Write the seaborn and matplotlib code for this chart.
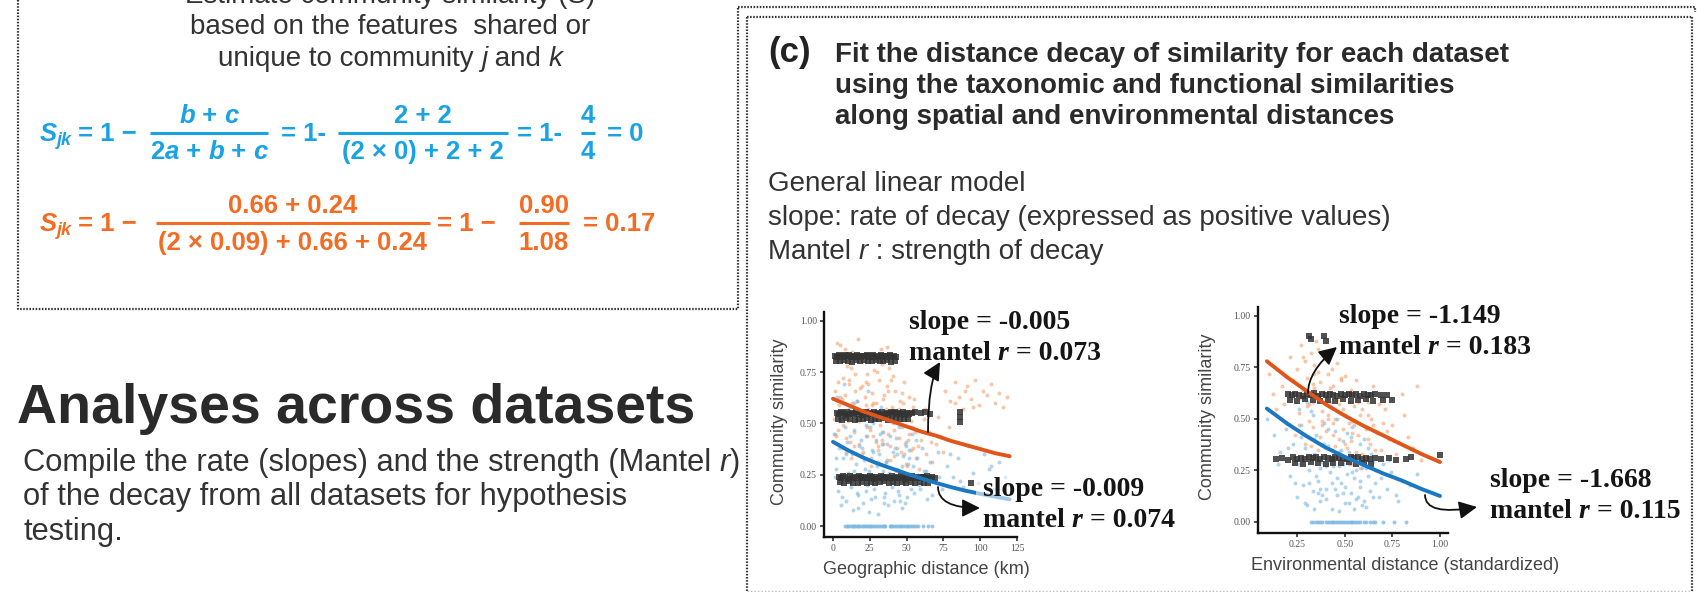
import matplotlib
matplotlib.use("Agg")
import matplotlib.pyplot as plt
import seaborn as sns
import pandas as pd
from matplotlib.patches import FancyArrowPatch, Rectangle

# ---------------- data ----------------
# left panel: geographic distance (km) vs community similarity
geo_tax_x = [1.2, 2.5, 3.1, 4.4, 5.0, 5.8, 6.6, 7.3, 8.1, 8.9, 9.7, 10.4, 11.2, 12.0, 12.9, 13.5, 14.3, 15.2, 16.0, 16.8,
             17.5, 18.4, 19.1, 19.9, 20.7, 21.6, 22.3, 23.0, 23.9, 24.6, 25.5, 26.2, 27.1, 27.8, 28.7, 29.5, 30.3, 31.1,
             31.9, 32.6, 33.5, 34.2, 35.0, 35.9, 36.7, 37.4, 38.3, 39.0, 39.8, 40.7, 41.5, 42.2, 43.0, 43.9, 44.6, 45.5,
             46.3, 47.1, 48.0, 48.8, 49.7, 50.5, 51.4, 52.3, 53.1, 54.2, 55.0, 56.3, 57.4, 58.6, 60.1, 61.8, 63.5, 65.2,
             67.4, 69.8, 72.5, 76.0, 79.3, 82.7, 85.9, 88.4, 91.2, 93.8, 96.5, 99.1, 101.8, 104.6, 107.3, 110.2, 113.0,
             115.7, 118.4,
             0.8, 3.6, 6.1, 9.3, 11.7, 14.8, 17.1, 19.6, 22.8, 25.1, 27.5, 30.8, 33.0, 36.1, 38.7, 41.0, 44.2, 47.6,
             50.9, 54.6, 2.0, 7.9, 13.1, 18.0, 24.0, 29.0, 34.7, 39.5, 45.0, 52.8,
             1.5, 4.9, 8.6, 12.3, 15.9, 19.4, 23.2, 26.7, 30.1, 33.9, 37.6, 41.2, 44.9, 48.4, 51.7, 55.8,
             2.9, 6.8, 10.8, 14.6, 18.7, 22.5, 26.0, 29.8, 33.3, 36.9, 40.1, 43.6, 47.0, 50.2, 53.9, 57.9, 62.4, 66.8,
             71.1, 74.7, 78.5, 83.0, 89.6, 95.3]
geo_tax_y = [0.66, 0.81, 0.47, 0.59, 0.88, 0.38, 0.72, 0.55, 0.64, 0.43, 0.78, 0.51, 0.69, 0.33, 0.85, 0.58, 0.46, 0.74,
             0.61, 0.91, 0.40, 0.67, 0.53, 0.80, 0.36, 0.63, 0.70, 0.48, 0.57, 0.84, 0.29, 0.65, 0.44, 0.76, 0.52, 0.60,
             0.37, 0.71, 0.49, 0.86, 0.42, 0.62, 0.55, 0.31, 0.68, 0.45, 0.77, 0.39, 0.58, 0.50, 0.34, 0.66, 0.27, 0.53,
             0.43, 0.61, 0.36, 0.48, 0.70, 0.40, 0.30, 0.56, 0.45, 0.25, 0.51, 0.38, 0.62, 0.33, 0.47, 0.28, 0.42, 0.52,
             0.35, 0.46, 0.31, 0.40, 0.44, 0.66, 0.61, 0.70, 0.63, 0.57, 0.68, 0.62, 0.71, 0.59, 0.66, 0.64, 0.69, 0.60,
             0.65, 0.58, 0.63,
             0.52, 0.70, 0.62, 0.83, 0.41, 0.66, 0.56, 0.35, 0.74, 0.47, 0.60, 0.39, 0.79, 0.57, 0.32, 0.73, 0.50, 0.60,
             0.42, 0.58, 0.44, 0.86, 0.60, 0.51, 0.69, 0.41, 0.64, 0.71, 0.53, 0.37,
             0.45, 0.63, 0.36, 0.77, 0.52, 0.68, 0.44, 0.59, 0.81, 0.40, 0.66, 0.47, 0.57, 0.35, 0.63, 0.46,
             0.89, 0.49, 0.71, 0.39, 0.82, 0.59, 0.33, 0.75, 0.46, 0.87, 0.55, 0.38, 0.65, 0.29, 0.48, 0.39, 0.57, 0.41,
             0.53, 0.36, 0.48, 0.60, 0.66, 0.58]
geo_fun_x = [0.9, 1.8, 2.7, 3.5, 4.3, 5.2, 6.0, 6.9, 7.7, 8.6, 9.4, 10.3, 11.1, 12.0, 12.8, 13.7, 14.5, 15.4, 16.2, 17.1,
             17.9, 18.8, 19.6, 20.5, 21.3, 22.2, 23.0, 23.9, 24.7, 25.6, 26.4, 27.3, 28.1, 29.0, 29.8, 30.7, 31.5, 32.4,
             33.2, 34.1, 34.9, 35.8, 36.6, 37.5, 38.3, 39.2, 40.0, 40.9, 41.7, 42.6, 43.4, 44.3, 45.1, 46.0, 46.8, 47.7,
             48.5, 49.4, 50.2, 51.1, 52.5, 53.8, 55.2, 56.9, 58.4, 60.3, 62.1, 64.0, 66.2, 68.5, 71.0, 74.3, 77.6, 81.2,
             84.7, 88.1, 91.6, 95.2, 98.8, 102.3, 105.9, 109.4, 113.0, 116.6, 119.8,
             2.2, 5.6, 8.2, 11.6, 14.0, 16.6, 19.3, 21.8, 24.3, 26.9, 29.4, 31.9, 34.5, 37.0, 39.6, 42.1, 44.7, 47.2,
             49.8, 53.0, 4.0, 10.0, 15.8, 22.6, 28.5, 33.7, 38.9, 45.6, 51.8, 57.5,
             1.3, 3.8, 6.4, 9.0, 11.9, 14.4, 17.0, 19.9, 22.4, 25.0, 27.9, 30.3, 33.0, 35.6, 38.1, 40.7, 43.2, 46.2,
             48.8, 51.5, 54.3, 56.1, 59.2, 63.1, 67.3, 72.2, 79.4, 86.5, 93.7, 107.6]
geo_fun_y = [0.45, 0.28, 0.63, 0.17, 0.38, 0.52, 0.22, 0.33, 0.69, 0.12, 0.41, 0.26, 0.57, 0.19, 0.35, 0.08, 0.47, 0.30,
             0.61, 0.15, 0.39, 0.24, 0.54, 0.11, 0.32, 0.44, 0.20, 0.66, 0.27, 0.13, 0.37, 0.50, 0.18, 0.42, 0.29, 0.06,
             0.35, 0.58, 0.22, 0.46, 0.14, 0.31, 0.40, 0.10, 0.26, 0.53, 0.19, 0.36, 0.12, 0.43, 0.28, 0.17, 0.48, 0.23,
             0.09, 0.34, 0.21, 0.39, 0.14, 0.30, 0.25, 0.45, 0.16, 0.33, 0.20, 0.38, 0.27, 0.13, 0.31, 0.22, 0.36, 0.18,
             0.29, 0.24, 0.33, 0.19, 0.39, 0.26, 0.21, 0.35, 0.28, 0.18, 0.31, 0.24, 0.20,
             0.33, 0.10, 0.48, 0.23, 0.60, 0.16, 0.42, 0.28, 0.07, 0.36, 0.21, 0.45, 0.11, 0.32, 0.24, 0.38, 0.15, 0.29,
             0.41, 0.18, 0.55, 0.37, 0.25, 0.49, 0.14, 0.27, 0.44, 0.12, 0.33, 0.23,
             0.24, 0.51, 0.14, 0.35, 0.44, 0.27, 0.09, 0.38, 0.17, 0.48, 0.23, 0.31, 0.40, 0.16, 0.51, 0.21, 0.35, 0.26,
             0.11, 0.37, 0.29, 0.42, 0.18, 0.27, 0.15, 0.24, 0.35, 0.22, 0.17, 0.29]
geo_zero_x = [8.5, 10.2, 12.6, 14.1, 16.3, 18.0, 20.4, 22.1, 24.5, 26.0, 28.3, 31.2, 33.8, 35.4, 38.6, 40.3, 42.7, 45.2,
              47.5, 50.1, 52.4, 55.3, 58.0, 61.2, 64.5, 67.6,
              9.3, 11.4, 13.3, 15.2, 17.1, 19.2, 21.3, 23.3, 25.2, 27.1, 29.6, 32.5, 34.6, 39.5, 41.5, 43.9, 46.3, 48.8,
              51.2, 53.8, 56.6]
geo_zero_y = [0.0] * 47
geo_grey_x = [1.2, 2.6, 3.9, 5.3, 6.6, 8.0, 9.3, 10.7, 12.0, 13.4, 14.7, 16.1, 17.4, 18.8, 20.1, 21.5, 22.8, 24.2, 25.5,
              26.9, 28.2, 29.6, 30.9, 32.3, 33.6, 35.0, 36.3, 37.7, 39.0, 40.4, 41.7, 43.1,
              1.9, 4.6, 7.3, 10.0, 12.7, 15.4, 18.1, 20.8, 23.5, 26.2, 28.9, 31.6, 34.3, 37.0, 39.7, 42.4,
              2.8, 4.2, 5.6, 7.0, 8.4, 9.8, 11.2, 12.6, 14.0, 15.4, 16.8, 18.2, 19.6, 21.0, 22.4, 23.8, 25.2, 26.6, 28.0,
              29.4, 30.8, 32.2, 33.6, 35.0, 36.4, 37.8, 39.2, 40.6, 42.0, 43.4, 44.8, 46.2, 47.6, 49.0, 50.4, 51.8,
              53.5, 56.0, 59.5, 62.8, 66.0, 86.0, 86.3,
              3.5, 6.3, 9.1, 11.9, 14.7, 17.5, 20.3, 23.1, 25.9, 28.7, 31.5, 34.3, 37.1, 39.9, 42.7, 45.5, 48.3, 51.1, 86.6,
              4.0, 5.5, 7.0, 8.5, 10.0, 11.5, 13.0, 14.5, 16.0, 17.5, 19.0, 20.5, 22.0, 23.5, 25.0, 26.5, 28.0, 29.5,
              31.0, 32.5, 34.0, 35.5, 37.0, 38.5, 40.0, 41.5, 43.0, 44.5, 46.0, 47.5, 49.0, 50.5, 52.0, 53.5, 55.0,
              56.5, 58.0, 59.5, 61.0, 62.5, 64.0, 65.5, 67.0, 69.0,
              4.8, 7.8, 10.8, 13.8, 16.8, 19.8, 22.8, 25.8, 28.8, 31.8, 34.8, 37.8, 40.8, 43.8, 46.8, 49.8, 52.8, 55.8,
              58.8, 61.8, 64.8, 94.0]
geo_grey_y = [0.830, 0.825, 0.833, 0.828, 0.822, 0.831, 0.826, 0.834, 0.823, 0.829, 0.825, 0.832, 0.827, 0.821, 0.830,
              0.826, 0.833, 0.824, 0.828, 0.831, 0.822, 0.829, 0.825, 0.833, 0.827, 0.823, 0.830, 0.826, 0.832, 0.824,
              0.828, 0.822,
              0.806, 0.803, 0.809, 0.805, 0.801, 0.807, 0.804, 0.810, 0.802, 0.806, 0.808, 0.803, 0.805, 0.809, 0.801,
              0.806,
              0.552, 0.545, 0.556, 0.549, 0.543, 0.554, 0.547, 0.551, 0.544, 0.555, 0.548, 0.553, 0.542, 0.550, 0.556,
              0.546, 0.552, 0.545, 0.554, 0.548, 0.551, 0.543, 0.555, 0.547, 0.550, 0.544, 0.553, 0.549, 0.556, 0.545,
              0.551, 0.547, 0.554, 0.542, 0.550, 0.548, 0.552, 0.556, 0.549, 0.553, 0.547, 0.555, 0.530,
              0.522, 0.518, 0.525, 0.520, 0.516, 0.523, 0.519, 0.526, 0.517, 0.522, 0.520, 0.524, 0.518, 0.521, 0.525,
              0.519, 0.523, 0.520, 0.508,
              0.240, 0.234, 0.243, 0.237, 0.231, 0.242, 0.236, 0.239, 0.233, 0.244, 0.238, 0.232, 0.241, 0.235, 0.243,
              0.237, 0.230, 0.240, 0.234, 0.242, 0.238, 0.232, 0.241, 0.236, 0.244, 0.233, 0.239, 0.235, 0.242, 0.237,
              0.231, 0.240, 0.236, 0.243, 0.234, 0.239, 0.232, 0.241, 0.237, 0.235, 0.242, 0.233, 0.238, 0.236,
              0.214, 0.210, 0.217, 0.212, 0.208, 0.215, 0.211, 0.216, 0.209, 0.213, 0.218, 0.210, 0.214, 0.212, 0.216,
              0.209, 0.213, 0.211, 0.215, 0.210, 0.212, 0.210]
geo_fit_x = [0, 10, 20, 30, 40, 50, 60, 70, 80, 90, 100, 110, 120]
geo_fit_tax = [0.62, 0.59, 0.56, 0.535, 0.51, 0.485, 0.46, 0.44, 0.415, 0.395, 0.375, 0.355, 0.34]
geo_fit_fun = [0.41, 0.37, 0.335, 0.305, 0.28, 0.255, 0.232, 0.21, 0.19, 0.172, 0.157, 0.143, 0.13]

# right panel: environmental distance vs community similarity
env_tax_x = [0.10, 0.14, 0.17, 0.19, 0.21, 0.22, 0.24, 0.25, 0.26, 0.27, 0.28, 0.29, 0.30, 0.31, 0.32, 0.33, 0.34, 0.35,
             0.36, 0.37, 0.38, 0.39, 0.40, 0.41, 0.42, 0.43, 0.44, 0.45, 0.46, 0.47, 0.48, 0.49, 0.50, 0.51, 0.52, 0.53,
             0.54, 0.55, 0.56, 0.57, 0.58, 0.59, 0.60, 0.61, 0.62, 0.63, 0.64, 0.65, 0.67, 0.69, 0.71, 0.73, 0.75, 0.77,
             0.80, 0.83, 0.86, 0.90,
             0.27, 0.29, 0.31, 0.33, 0.35, 0.37, 0.39, 0.41, 0.43, 0.45, 0.47, 0.49, 0.51, 0.53, 0.55, 0.57, 0.30, 0.34,
             0.38, 0.42, 0.46, 0.50, 0.54, 0.36, 0.44, 0.48, 0.58, 0.62, 0.66, 0.70,
             0.12, 0.18, 0.23, 0.26, 0.28, 0.30, 0.32, 0.34, 0.36, 0.38, 0.40, 0.42, 0.44, 0.46, 0.48, 0.50, 0.52, 0.54,
             0.56, 0.59, 0.62, 0.65, 0.68, 0.72, 0.76, 0.81, 0.88, 0.33, 0.41, 0.49]
env_tax_y = [0.72, 0.55, 0.66, 0.48, 0.80, 0.60, 0.42, 0.74, 0.53, 0.86, 0.64, 0.38, 0.70, 0.57, 0.82, 0.46, 0.76, 0.62,
             0.35, 0.68, 0.54, 0.79, 0.44, 0.72, 0.58, 0.31, 0.66, 0.50, 0.77, 0.40, 0.61, 0.55, 0.71, 0.36, 0.48, 0.64,
             0.28, 0.56, 0.69, 0.42, 0.52, 0.33, 0.62, 0.45, 0.58, 0.38, 0.50, 0.66, 0.43, 0.35, 0.55, 0.40, 0.47, 0.33,
             0.62, 0.41, 0.36, 0.30,
             0.60, 0.78, 0.49, 0.67, 0.88, 0.41, 0.63, 0.52, 0.74, 0.37, 0.57, 0.45, 0.62, 0.39, 0.47, 0.58, 0.32, 0.72,
             0.47, 0.65, 0.33, 0.52, 0.43, 0.84, 0.48, 0.69, 0.26, 0.52, 0.35, 0.48,
             0.62, 0.57, 0.69, 0.47, 0.80, 0.56, 0.37, 0.65, 0.73, 0.49, 0.60, 0.83, 0.42, 0.59, 0.70, 0.38, 0.58, 0.49,
             0.34, 0.55, 0.40, 0.47, 0.57, 0.44, 0.39, 0.52, 0.66, 0.58, 0.50, 0.29]
env_fun_x = [0.09, 0.13, 0.16, 0.19, 0.21, 0.23, 0.25, 0.26, 0.27, 0.28, 0.29, 0.30, 0.31, 0.32, 0.33, 0.34, 0.35, 0.36,
             0.37, 0.38, 0.39, 0.40, 0.41, 0.42, 0.43, 0.44, 0.45, 0.46, 0.47, 0.48, 0.49, 0.50, 0.51, 0.52, 0.53, 0.54,
             0.55, 0.56, 0.57, 0.58, 0.59, 0.60, 0.61, 0.62, 0.63, 0.64, 0.66, 0.68, 0.70, 0.72, 0.74, 0.77, 0.80, 0.84,
             0.88,
             0.28, 0.31, 0.34, 0.37, 0.40, 0.43, 0.46, 0.49, 0.52, 0.55, 0.58, 0.61, 0.33, 0.39, 0.45, 0.51, 0.57, 0.36,
             0.42, 0.48, 0.54, 0.60, 0.65, 0.30, 0.47,
             0.15, 0.20, 0.24, 0.27, 0.29, 0.32, 0.35, 0.38, 0.41, 0.44, 0.47, 0.50, 0.53, 0.56, 0.59, 0.62, 0.65, 0.69,
             0.73, 0.78, 0.26, 0.34, 0.43, 0.52, 0.58, 0.37, 0.46, 0.55, 0.40, 0.49]
env_fun_y = [0.50, 0.42, 0.34, 0.45, 0.22, 0.38, 0.12, 0.28, 0.47, 0.18, 0.36, 0.08, 0.25, 0.54, 0.15, 0.33, 0.42, 0.20,
             0.10, 0.29, 0.48, 0.16, 0.37, 0.24, 0.06, 0.31, 0.44, 0.13, 0.27, 0.19, 0.39, 0.09, 0.23, 0.34, 0.14, 0.46,
             0.21, 0.11, 0.30, 0.17, 0.26, 0.40, 0.07, 0.22, 0.15, 0.33, 0.19, 0.12, 0.28, 0.16, 0.24, 0.13, 0.20, 0.18,
             0.23,
             0.30, 0.19, 0.40, 0.26, 0.11, 0.35, 0.21, 0.28, 0.09, 0.31, 0.20, 0.26, 0.52, 0.38, 0.16, 0.43, 0.12, 0.14,
             0.30, 0.35, 0.24, 0.10, 0.29, 0.58, 0.05,
             0.28, 0.36, 0.19, 0.41, 0.09, 0.32, 0.22, 0.13, 0.45, 0.27, 0.34, 0.17, 0.41, 0.25, 0.08, 0.36, 0.12, 0.21,
             0.30, 0.10, 0.55, 0.06, 0.19, 0.28, 0.38, 0.16, 0.50, 0.06, 0.27, 0.14]
env_zero_x = [0.32, 0.35, 0.37, 0.40, 0.42, 0.44, 0.47, 0.49, 0.51, 0.53, 0.55, 0.58, 0.60, 0.63, 0.66, 0.70, 0.76, 0.82,
              0.33, 0.36, 0.38, 0.41, 0.43, 0.45, 0.46, 0.48, 0.50, 0.52, 0.54, 0.56, 0.57, 0.61, 0.65]
env_zero_y = [0.0] * 33
env_grey_x = [0.20, 0.22, 0.24, 0.26, 0.28, 0.30, 0.32, 0.34, 0.36, 0.38, 0.40, 0.42, 0.44, 0.46, 0.48, 0.50, 0.52, 0.54,
              0.56, 0.58, 0.60, 0.62, 0.64, 0.66, 0.69, 0.72,
              0.21, 0.25, 0.29, 0.33, 0.37, 0.41, 0.45, 0.49, 0.53, 0.57, 0.61, 0.65, 0.70, 0.75,
              0.14, 0.17, 0.20, 0.23, 0.25, 0.27, 0.29, 0.31, 0.33, 0.35, 0.37, 0.39, 0.41, 0.43, 0.45, 0.47, 0.49, 0.51,
              0.53, 0.55, 0.57, 0.59, 0.61, 0.63, 0.66, 0.69, 0.73, 0.77, 0.82, 0.85, 1.00,
              0.24, 0.28, 0.32, 0.36, 0.40, 0.44, 0.48, 0.52, 0.56, 0.60, 0.64,
              0.31, 0.32, 0.39, 0.40]
env_grey_y = [0.619, 0.614, 0.623, 0.617, 0.612, 0.621, 0.616, 0.624, 0.613, 0.620, 0.615, 0.622, 0.618, 0.611, 0.620,
              0.616, 0.623, 0.614, 0.619, 0.613, 0.621, 0.617, 0.615, 0.620, 0.614, 0.618,
              0.592, 0.588, 0.595, 0.590, 0.586, 0.593, 0.589, 0.596, 0.587, 0.591, 0.594, 0.588, 0.592, 0.590,
              0.304, 0.309, 0.302, 0.314, 0.307, 0.312, 0.305, 0.315, 0.308, 0.313, 0.306, 0.316, 0.310, 0.304, 0.314,
              0.308, 0.312, 0.305, 0.315, 0.309, 0.313, 0.306, 0.311, 0.307, 0.310, 0.304, 0.308, 0.302, 0.307, 0.315,
              0.325,
              0.286, 0.282, 0.289, 0.284, 0.280, 0.287, 0.283, 0.288, 0.281, 0.285, 0.282,
              0.905, 0.890, 0.905, 0.880]
env_fit_x = [0.09, 0.2, 0.3, 0.4, 0.5, 0.6, 0.7, 0.8, 0.9, 1.0]
env_fit_tax = [0.78, 0.70, 0.635, 0.57, 0.515, 0.465, 0.42, 0.375, 0.33, 0.29]
env_fit_fun = [0.55, 0.475, 0.415, 0.36, 0.315, 0.275, 0.235, 0.20, 0.16, 0.125]

geo_ticks = [0, 25, 50, 75, 100, 125]
env_ticks = [0.25, 0.50, 0.75, 1.00]
sim_ticks = [0.00, 0.25, 0.50, 0.75, 1.00]

stats_geo = [("-0.005", "0.073"), ("-0.009", "0.074")]
stats_env = [("-1.149", "0.183"), ("-1.668", "0.115")]

# ---------------- figure ----------------
sns.set_theme(style="white")
plt.rcParams['font.family'] = ['Liberation Sans', 'DejaVu Sans']

W, H = 1697, 592
fig = plt.figure(figsize=(W / 100, H / 100), dpi=100)
fig.patch.set_facecolor("white")


def px_axes(l, t, r, b, **kw):
    return fig.add_axes([l / W, 1 - b / H, (r - l) / W, (b - t) / H], **kw)


ax1 = px_axes(824, 311.7, 1017, 536.7)
ax2 = px_axes(1257.7, 306.7, 1448, 532.7)
ov = fig.add_axes([0, 0, 1, 1], zorder=10)
ov.set_xlim(0, W)
ov.set_ylim(H, 0)
ov.axis("off")
ov.patch.set_alpha(0)

C_TAX_PT = "#F4A06E"
C_FUN_PT = "#7DB8E3"
C_TAX_LN = "#E0561A"
C_FUN_LN = "#1C77C3"
C_GREY = "#333333"


def draw_panel(ax, tx, ty, fx, fy, zx, zy, gx, gy, fit_x, fit_t, fit_f, xlim, ylim, xticks, xticklabels):
    d = pd.DataFrame(list(zip(tx, ty)), columns=["x", "y"])
    sns.scatterplot(data=d, x="x", y="y", ax=ax, color=C_TAX_PT, s=8, alpha=0.6, linewidth=0, legend=False, zorder=2)
    d = pd.DataFrame(list(zip(fx, fy)), columns=["x", "y"])
    sns.scatterplot(data=d, x="x", y="y", ax=ax, color=C_FUN_PT, s=8, alpha=0.6, linewidth=0, legend=False, zorder=2)
    d = pd.DataFrame(list(zip(zx, zy)), columns=["x", "y"])
    sns.scatterplot(data=d, x="x", y="y", ax=ax, color=C_FUN_PT, s=8, alpha=0.8, linewidth=0, legend=False, zorder=2)
    d = pd.DataFrame(list(zip(gx, gy)), columns=["x", "y"])
    sns.scatterplot(data=d, x="x", y="y", ax=ax, color=C_GREY, marker="s", s=13, alpha=0.85, linewidth=0,
                    legend=False, zorder=3)
    sns.lineplot(x=fit_x, y=fit_t, ax=ax, color=C_TAX_LN, lw=2.8, zorder=4)
    sns.lineplot(x=fit_x, y=fit_f, ax=ax, color=C_FUN_LN, lw=2.8, zorder=4)
    ax.set_xlim(*xlim)
    ax.set_ylim(*ylim)
    ax.set_xticks(xticks)
    ax.set_xticklabels(xticklabels)
    ax.set_yticks(sim_ticks)
    ax.set_yticklabels([f"{v:.2f}" for v in sim_ticks])
    ax.set_xlabel("")
    ax.set_ylabel("")
    ax.patch.set_alpha(0)
    for s in ["top", "right"]:
        ax.spines[s].set_visible(False)
    for s in ["left", "bottom"]:
        ax.spines[s].set_color("#111111")
        ax.spines[s].set_linewidth(1.7)
    ax.tick_params(axis="both", direction="out", length=3, width=1.2, color="#333333", labelsize=7,
                   labelcolor="#555555", pad=2, bottom=True, left=True)
    for lbl in ax.get_xticklabels() + ax.get_yticklabels():
        lbl.set_fontfamily("Liberation Serif")


draw_panel(ax1, geo_tax_x, geo_tax_y, geo_fun_x, geo_fun_y, geo_zero_x, geo_zero_y, geo_grey_x, geo_grey_y,
           geo_fit_x, geo_fit_tax, geo_fit_fun, (-6.1, 125.0), (-0.052, 1.044), geo_ticks,
           [str(v) for v in geo_ticks])
draw_panel(ax2, env_tax_x, env_tax_y, env_fun_x, env_fun_y, env_zero_x, env_zero_y, env_grey_x, env_grey_y,
           env_fit_x, env_fit_tax, env_fit_fun, (0.042, 1.042), (-0.0535, 1.045), env_ticks,
           [f"{v:.2f}" for v in env_ticks])

fig.canvas.draw()
renderer = fig.canvas.get_renderer()


def text_width(txt, props):
    a = ov.text(0, 0, "|" + txt + "|", **props)
    b = ov.text(0, 0, "||", **props)
    w = a.get_window_extent(renderer).width - b.get_window_extent(renderer).width
    a.remove()
    b.remove()
    return w


def runs(x, y, parts, ha="left", **common):
    items = []
    for p in parts:
        props = dict(common)
        if isinstance(p, str):
            txt = p
        else:
            txt = p[0]
            if len(p) > 1:
                props.update(p[1])
        dy = props.pop("dy", 0)
        items.append((txt, props, dy, text_width(txt, props)))
    total = sum(i[3] for i in items)
    x0 = x - total / 2 if ha == "center" else (x - total if ha == "right" else x)
    for txt, props, dy, w in items:
        ov.text(x0, y + dy, txt, ha="left", va="baseline", **props)
        x0 += w


IT = {"style": "italic"}

# ---------------- borders ----------------
dot = dict(color="#333333", lw=1.6, linestyle=(0, (0.7, 0.7)), solid_capstyle="butt")
ov.plot([18, 18, 738, 738], [0, 309, 309, 7], **dot)
ov.plot([738, 1695, 1695], [7, 7, 12], **dot)
ov.plot([747, 747], [17, 591], **dot)
ov.plot([747, 1692], [17, 17], **dot)
ov.plot([1692, 1692], [17, 591], **dot)
ov.plot([747, 1692], [591, 591], color="#bbbbbb", lw=1.0, linestyle=(0, (1, 1.5)))

# ---------------- top-left text ----------------
TXT = "#333333"
ov.text(390, 3, "Estimate community similarity (S)", ha="center", va="baseline", fontsize=20, color=TXT)
ov.text(390, 34, "based on the features  shared or", ha="center", va="baseline", fontsize=20, color=TXT)
runs(390, 66, ["unique to community ", ("j", IT), " and ", ("k", IT)], ha="center", fontsize=20, color=TXT)

# ---------------- equations ----------------
CB = "#1AA3E3"
CO = "#F26C23"
EQ = dict(fontsize=18.5, fontweight="bold")
ITB = {"style": "italic"}


def sjk(x, y, color):
    runs(x, y, [("S", ITB), ("jk", {"style": "italic", "fontsize": 13, "dy": 4})], color=color, **EQ)


def frac(x0, x1, ybar, num, den, color, nb, db):
    ov.plot([x0, x1], [ybar, ybar], color=color, lw=2.2, solid_capstyle="butt")
    runs((x0 + x1) / 2, nb, num, ha="center", color=color, **EQ)
    runs((x0 + x1) / 2, db, den, ha="center", color=color, **EQ)


sjk(40, 141, CB)
ov.text(78, 141, "= 1 \u2212", va="baseline", color=CB, **EQ)
frac(150, 268, 133, [("b", ITB), " + ", ("c", ITB)],
     ["2", ("a", ITB), " + ", ("b", ITB), " + ", ("c", ITB)], CB, 123, 159)
ov.text(281, 141, "= 1-", va="baseline", color=CB, **EQ)
frac(338, 508, 133, ["2 + 2"], ["(2 \u00d7 0) + 2 + 2"], CB, 123, 159)
ov.text(517, 141, "= 1-", va="baseline", color=CB, **EQ)
frac(581, 595, 133, ["4"], ["4"], CB, 123, 159)
ov.text(607, 141, "= 0", va="baseline", color=CB, **EQ)

sjk(40, 231, CO)
ov.text(78, 231, "= 1 \u2212", va="baseline", color=CO, **EQ)
frac(156, 430, 223, ["0.66 + 0.24"], ["(2 \u00d7 0.09) + 0.66 + 0.24"], CO, 213, 250)
ov.text(437, 231, "= 1 \u2212", va="baseline", color=CO, **EQ)
frac(519, 569, 223, ["0.90"], ["1.08"], CO, 213, 250)
ov.text(583, 231, "= 0.17", va="baseline", color=CO, **EQ)

# ---------------- bottom-left text ----------------
ov.text(17, 423, "Analyses across datasets", va="baseline", fontsize=40, fontweight="bold", color="#2a2a2a")
runs(23, 471, ["Compile the rate (slopes) and the strength (Mantel ", ("r", IT), ")"], fontsize=22.2, color=TXT)
ov.text(23, 505, "of the decay from all datasets for hypothesis", va="baseline", fontsize=22.2, color=TXT)
ov.text(23, 540, "testing.", va="baseline", fontsize=22.2, color=TXT)

# ---------------- (c) box text ----------------
ov.text(768, 62, "(c)", va="baseline", fontsize=25, fontweight="bold", color="#222222")
for yb, line in zip([62, 93, 124], ["Fit the distance decay of similarity for each dataset",
                                    "using the taxonomic and functional similarities",
                                    "along spatial and environmental distances"]):
    ov.text(835, yb, line, va="baseline", fontsize=20, fontweight="bold", color="#2a2a2a")
ov.text(768, 191, "General linear model", va="baseline", fontsize=20, color=TXT)
ov.text(768, 225, "slope: rate of decay (expressed as positive values)", va="baseline", fontsize=20, color=TXT)
runs(768, 259, ["Mantel ", ("r", IT), " : strength of decay"], fontsize=20, color=TXT)

# ---------------- axis labels ----------------
LAB = dict(fontsize=13, color="#444444")
ov.text(926, 574, "Geographic distance (km)", ha="center", va="baseline", **LAB)
ov.text(1405, 570, "Environmental distance (standardized)", ha="center", va="baseline", **LAB)
ov.text(779, 422, "Community similarity", ha="center", va="center", rotation=90, **LAB)
ov.text(1208, 417, "Community similarity", ha="center", va="center", rotation=90, **LAB)

# ---------------- slope / mantel annotations ----------------
ov.add_patch(Rectangle((976, 474), 200, 58, facecolor="white", alpha=0.6, edgecolor="none", zorder=1))
AN = dict(fontsize=20, fontweight="bold", color="#151515", family=["Liberation Serif", "DejaVu Serif"])


def stat(x, yb, slope, mantel):
    ov.text(x, yb, f"slope = {slope}", va="baseline", **AN)
    runs(x, yb + 31, ["mantel ", ("r", {"style": "italic"}), f" = {mantel}"], **AN)


stat(909, 329, *stats_geo[0])
stat(983, 496, *stats_geo[1])
stat(1339, 323, *stats_env[0])
stat(1490, 487, *stats_env[1])

# ---------------- arrows ----------------
AR = dict(arrowstyle="-|>,head_length=0.9,head_width=0.45", mutation_scale=12, color="#111111", lw=1.3,
          shrinkA=0, shrinkB=0)
ov.add_patch(FancyArrowPatch((928, 432), (940, 362), connectionstyle="angle3,angleA=90,angleB=60", **AR))
ov.add_patch(FancyArrowPatch((938, 487), (980, 508), connectionstyle="angle3,angleA=-90,angleB=0", **AR))
ov.add_patch(FancyArrowPatch((1308, 393), (1337, 347), connectionstyle="angle3,angleA=90,angleB=40", **AR))
ov.add_patch(FancyArrowPatch((1425, 495), (1477, 507), connectionstyle="angle3,angleA=-90,angleB=10", **AR))

fig.savefig("out.png", dpi=100, facecolor="white")
